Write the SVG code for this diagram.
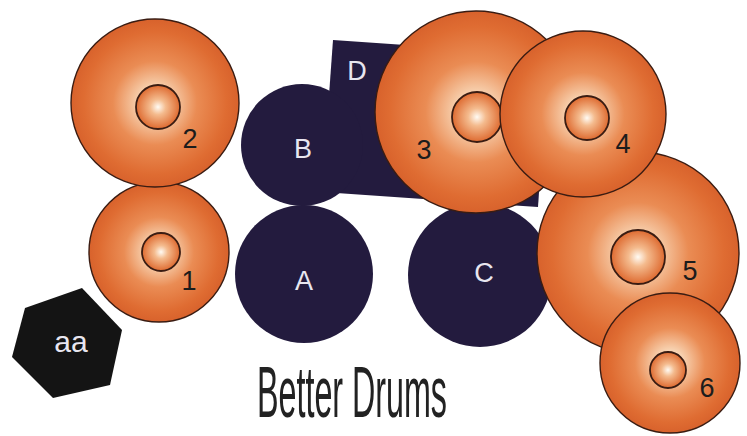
<svg xmlns="http://www.w3.org/2000/svg" width="747" height="436" viewBox="0 0 747 436">
  <defs>
    <radialGradient id="cym" cx="0.5" cy="0.5" r="0.5">
      <stop offset="0" stop-color="#fff8ef"/>
      <stop offset="0.2" stop-color="#f7d0ae"/>
      <stop offset="0.5" stop-color="#ea8c54"/>
      <stop offset="0.85" stop-color="#df6c32"/>
      <stop offset="1" stop-color="#d8622c"/>
    </radialGradient>
    <radialGradient id="bell" cx="0.5" cy="0.5" r="0.5">
      <stop offset="0" stop-color="#fffbf4"/>
      <stop offset="0.35" stop-color="#f4bb8e"/>
      <stop offset="1" stop-color="#de6a30"/>
    </radialGradient>
    <style>
      .cym { fill: url(#cym); stroke: #3a1c12; stroke-width: 1.4; }
      .bell { fill: url(#bell); stroke: #3a1c12; stroke-width: 1.8; }
      .drum { fill: #231b3e; }
      .num { font-family: "Liberation Sans", Arial, sans-serif; font-size: 27px; fill: #1c1c1c; text-anchor: middle; }
      .lbl { font-family: "Liberation Sans", Arial, sans-serif; font-size: 27px; fill: #e8e6f0; text-anchor: middle; }
      .title { font-family: "Liberation Sans", Arial, sans-serif; font-size: 72px; fill: #222222; }
    </style>
  </defs>
  <rect width="747" height="436" fill="#ffffff"/>

  <g id="D">
    <polygon class="drum" points="333,40 548.5,55 538,207 322,192"/>
    <text class="lbl" x="357" y="80">D</text>
  </g>
  <g id="B">
    <circle class="drum" cx="302" cy="145" r="61"/>
    <text class="lbl" x="303" y="158">B</text>
  </g>
  <g id="A">
    <circle class="drum" cx="304" cy="274" r="69"/>
    <text class="lbl" x="304" y="290">A</text>
  </g>
  <g id="C">
    <circle class="drum" cx="480" cy="275" r="72"/>
    <text class="lbl" x="484" y="282">C</text>
  </g>
  <g id="aa">
    <polygon fill="#141414" points="82,288 122,330 110,385 53,398 12,357 25,308"/>
    <text class="lbl" x="71" y="352" style="font-size:30px">aa</text>
  </g>

  <g id="cymbal1">
    <circle class="cym" cx="159" cy="252" r="70"/>
    <circle class="bell" cx="161" cy="252" r="19"/>
    <text class="num" x="189" y="290">1</text>
  </g>
  <g id="cymbal2">
    <circle class="cym" cx="155" cy="103" r="84"/>
    <circle class="bell" cx="158" cy="107" r="22"/>
    <text class="num" x="190" y="148">2</text>
  </g>
  <g id="cymbal3">
    <circle class="cym" cx="476" cy="112" r="101"/>
    <circle class="bell" cx="477" cy="117" r="25"/>
    <text class="num" x="424" y="159">3</text>
  </g>
  <g id="cymbal5">
    <circle class="cym" cx="638" cy="253" r="101"/>
    <circle class="bell" cx="638" cy="257" r="27"/>
    <text class="num" x="690" y="280">5</text>
  </g>
  <g id="cymbal4">
    <circle class="cym" cx="583" cy="114" r="83"/>
    <circle class="bell" cx="587" cy="118" r="22"/>
    <text class="num" x="623" y="153">4</text>
  </g>
  <g id="cymbal6">
    <circle class="cym" cx="670" cy="363" r="70"/>
    <circle class="bell" cx="668" cy="370" r="18"/>
    <text class="num" x="707" y="397">6</text>
  </g>

  <g id="connectors"/>

  <g id="title">
    <text class="title" x="257" y="417" textLength="190" lengthAdjust="spacingAndGlyphs">Better Drums</text>
  </g>
</svg>
